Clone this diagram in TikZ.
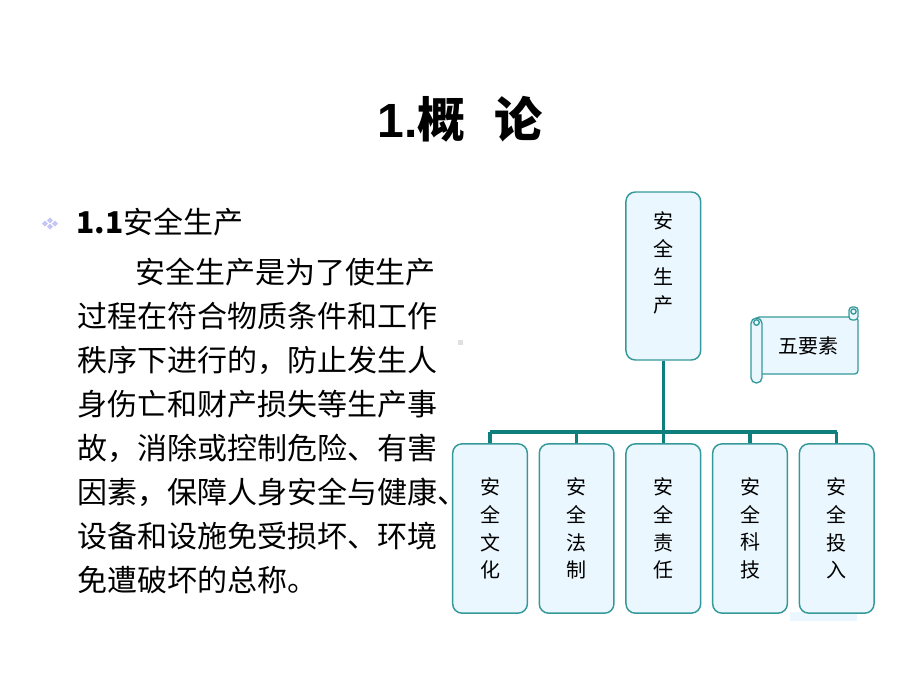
\documentclass[tikz,border=0pt]{standalone}
\usepackage{fontspec}
\setmainfont{Liberation Sans}
\newfontfamily\cjk{Noto Sans CJK SC}
\usetikzlibrary{positioning}

\definecolor{boxfill}{HTML}{EBF7FE}
\definecolor{boxline}{HTML}{35999A}
\definecolor{linkline}{HTML}{0F7F7D}
\definecolor{bulletc}{HTML}{C6C6F6}

\begin{document}
\begin{tikzpicture}[x=0.75pt,y=-0.75pt,
  box/.style={draw=boxline, fill=boxfill, line width=1.1pt, rounded corners=7pt,
    minimum width=56pt, minimum height=127pt, inner sep=0pt},
  vtext/.style={font=\cjk\fontsize{15}{20.8}\selectfont, align=center, inner sep=0pt},
  link/.style={draw=linkline, line width=2.5pt},
  para/.style={anchor=base west, inner sep=0pt, font=\cjk\fontsize{22.5}{30}\selectfont},
  scrollpart/.style={draw=boxline, fill=boxfill, line width=1pt}]
\useasboundingbox (0,0) rectangle (920,690);

% title
\node[anchor=base, inner sep=0pt, font=\fontsize{36}{40}\selectfont\bfseries] (title) at (460,137)
  {1.{\cjk 概\hspace{0.6em}论}};

% bullet and heading
\foreach \dx/\dy in {-5/0, 5/0, 0/-3.2, 0/3.2}
  \fill[bulletc] (50+\dx,223.5+\dy) +(-3,0) -- +(0,-3) -- +(3,0) -- +(0,3) -- cycle;
\node[para] (head) at (76,233) {\textbf{1.1}安全生产};

% paragraph
\node[para] (p1) at (135,283) {安全生产是为了使生产};
\node[para] (p2) at (77,327) {过程在符合物质条件和工作};
\node[para] (p3) at (77,371) {秩序下进行的，防止发生人};
\node[para] (p4) at (77,415) {身伤亡和财产损失等生产事};
\node[para] (p5) at (77,459) {故，消除或控制危险、有害};
\node[para] (p6) at (77,503) {因素，保障人身安全与健康、};
\node[para] (p7) at (77,547) {设备和设施免受损坏、环境};
\node[para] (p8) at (77,591) {免遭破坏的总称。};

% small marks
\fill[black!12] (458,340) rectangle (463,345);
\fill[boxfill] (790,612) rectangle (857,621);

% top box
\node[box, minimum height=126pt] (top) at (663.3,276) {};
\node[vtext] (toptext) at (663.3,263) {安\\全\\生\\产};

% five boxes
\node[box] (c1) at (490,528.5) {};
\node[box] (c2) at (576.6,528.5) {};
\node[box] (c3) at (663.3,528.5) {};
\node[box] (c4) at (750,528.5) {};
\node[box] (c5) at (836.7,528.5) {};
\node[vtext] at (c1) {安\\全\\文\\化};
\node[vtext] at (c2) {安\\全\\法\\制};
\node[vtext] at (c3) {安\\全\\责\\任};
\node[vtext] at (c4) {安\\全\\科\\技};
\node[vtext] at (c5) {安\\全\\投\\入};

% connectors
\coordinate (bar) at (663.3,432);
\draw[link] (top.south) -- (top.south |- bar);
\draw[link] (c1.north |- bar) -- (c5.north |- bar);
\foreach \i in {1,...,5}
  \draw[link] (c\i.north |- bar) -- (c\i.north);

% scroll
\filldraw[scrollpart, rounded corners=2.5pt] (756,317) rectangle (858,374);
\filldraw[scrollpart, rounded corners=2.5pt] (849,307) rectangle (858,320);
\draw[scrollpart] (853.5,311.5) circle (2.6);
\filldraw[scrollpart, rounded corners=4pt] (751,318) rectangle (762,383);
\draw[scrollpart] (756.5,322.5) circle (2.8);
\node[vtext] (five) at (808,346) {五要素};
\end{tikzpicture}
\end{document}
